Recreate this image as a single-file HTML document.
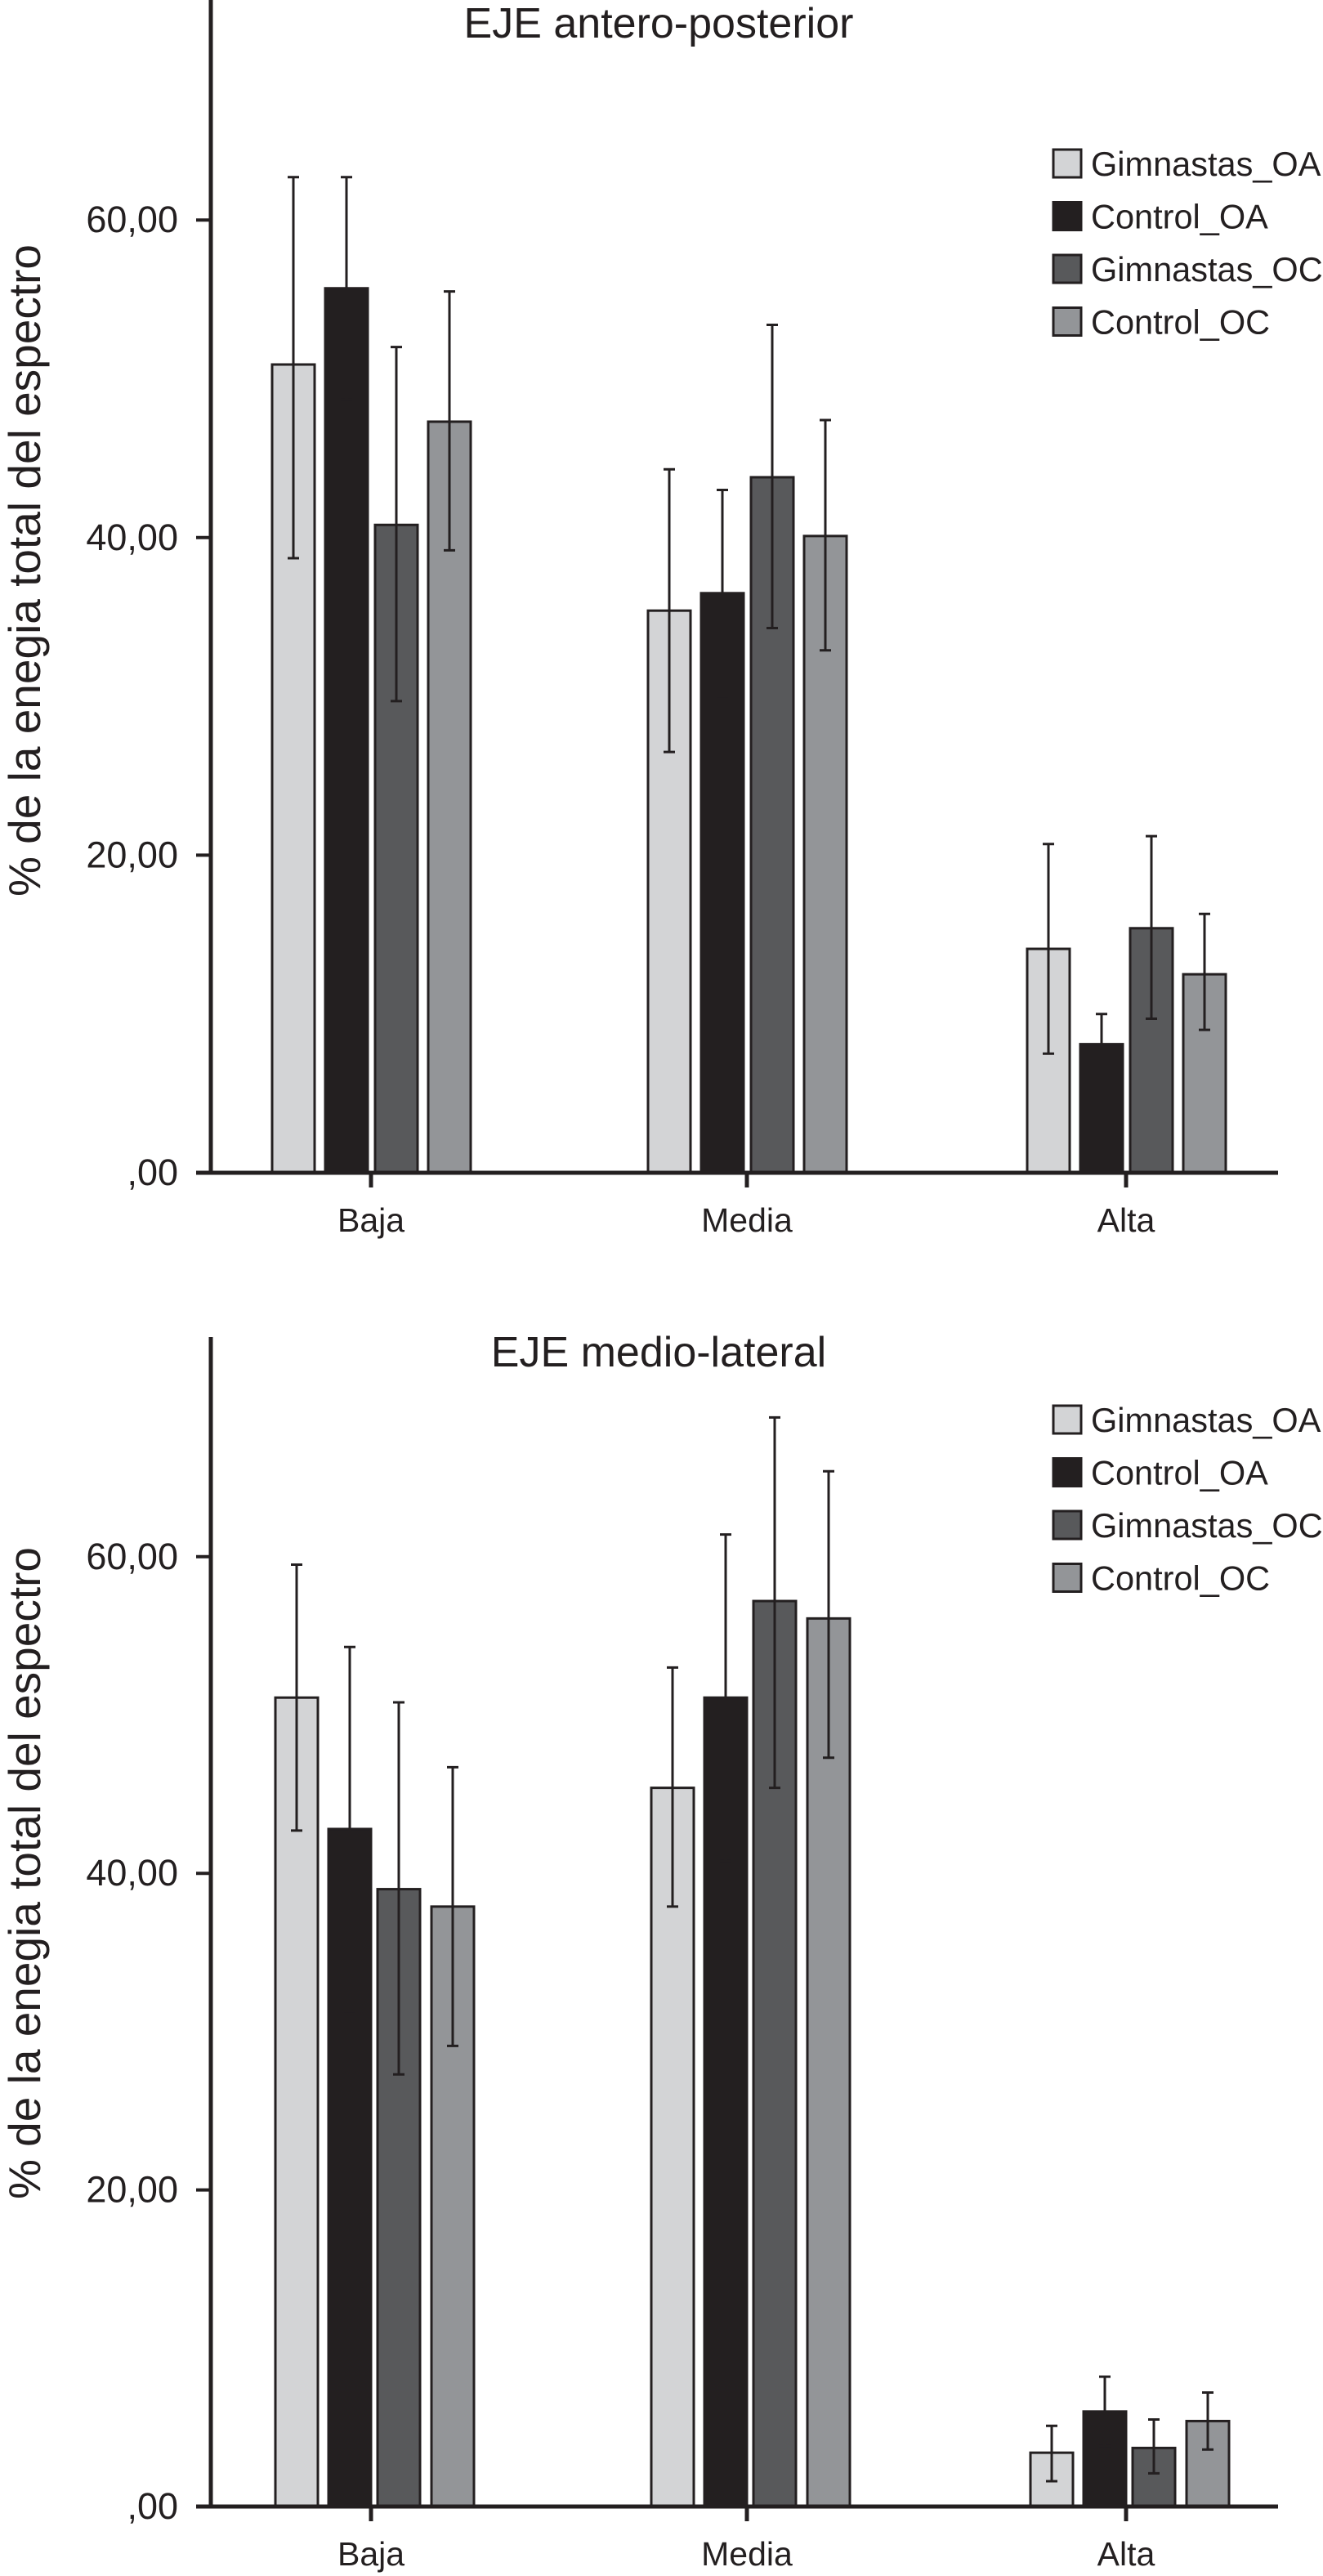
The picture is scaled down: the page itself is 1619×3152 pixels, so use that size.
<!DOCTYPE html>
<html><head><meta charset="utf-8"><style>
html,body{margin:0;padding:0;background:#fff;}
svg{display:block;font-family:"Liberation Sans",Arial,sans-serif;}
</style></head>
<body>
<svg id="svg" width="1619" height="3152" viewBox="0 0 1619 3152" xmlns="http://www.w3.org/2000/svg"></svg>
<script>
const categories = ["Baja","Media","Alta"];
const seriesNames = ["Gimnastas_OA","Control_OA","Gimnastas_OC","Control_OC"];
const yTicks = [0,20,40,60];
const yTickLabels = [",00","20,00","40,00","60,00"];
// Chart 1: EJE antero-posterior
const apMeans = [[50.9,35.4,14.1],[55.7,36.5,8.1],[40.8,43.8,15.4],[47.3,40.1,12.5]];
const apUpper = [[62.7,44.3,20.7],[62.7,43.0,10.0],[52.0,53.4,21.2],[55.5,47.4,16.3]];
const apLower = [[38.7,26.5,7.5],[48.7,30.0,6.2],[29.7,34.3,9.7],[39.2,32.9,9.0]];
// Chart 2: EJE medio-lateral
const mlMeans = [[51.1,45.4,3.4],[42.8,51.1,6.0],[39.0,57.2,3.7],[37.9,56.1,5.4]];
const mlUpper = [[59.5,53.0,5.1],[54.3,61.4,8.2],[50.8,68.8,5.5],[46.7,65.4,7.2]];
const mlLower = [[42.7,37.9,1.6],[31.3,40.8,3.8],[27.3,45.4,2.1],[29.1,47.3,3.6]];

const fills = ["#d3d4d6","#231f20","#58595b","#939598"];
const NS = "http://www.w3.org/2000/svg";
const svg = document.getElementById("svg");
function mk(tag, attrs, parent, text){
  const e = document.createElementNS(NS, tag);
  for (const k in attrs) e.setAttribute(k, attrs[k]);
  if (text !== undefined) e.textContent = text;
  (parent || svg).appendChild(e);
  return e;
}
function drawChart(cfg){
  const g = mk("g", {});
  
  
  const y = v => cfg.zeroY - v * cfg.pxPerUnit;
  const xc = i => cfg.catX[i];
  const t = mk("text", {x: 806, y: cfg.titleY, "font-size": 52, "text-anchor": "middle", fill: "#231f20"}, g, cfg.title);
  
  
  const yt = mk("text", {x: 0, y: 0, "font-size": 55, "text-anchor": "middle", fill: "#231f20",
    transform: `translate(49,${cfg.yTitleY}) rotate(-90)`}, g, "% de la enegia total del espectro");
  
  
  for (let s = 0; s < seriesNames.length; s++) {
    for (let c = 0; c < categories.length; c++) {
      const cx = xc(c) + cfg.offsets[s];
      const top = y(cfg.means[s][c]);
      const r = mk("rect", {x: cx - 26, y: top, width: 52, height: cfg.zeroY - top, fill: fills[s], stroke: "#231f20", "stroke-width": 3}, g);
      
      
      const yu = y(cfg.upper[s][c]), yl = y(cfg.lower[s][c]);
      const eb = mk("path", {d: `M${cx},${yu}V${yl}M${cx-7},${yu}H${cx+7}M${cx-7},${yl}H${cx+7}`, stroke: "#231f20", "stroke-width": 3, fill: "none"}, g);
      
      
    }
  }
  const ya = mk("path", {d: `M258,${cfg.axisTop}V${cfg.zeroY}`, stroke: "#231f20", "stroke-width": 5}, g);
  
  
  const xa = mk("path", {d: `M240,${cfg.zeroY}H1564`, stroke: "#231f20", "stroke-width": 5}, g);
  
  
  yTicks.forEach((v, i) => {
    const tk = mk("path", {d: `M240,${y(v)}H258`, stroke: "#231f20", "stroke-width": 4}, g);
    
    
    const tl = mk("text", {x: 218, y: y(v) + 15, "font-size": 45, "text-anchor": "end", fill: "#231f20"}, g, yTickLabels[i]);
    
    
  });
  categories.forEach((c, i) => {
    const tk = mk("path", {d: `M${xc(i)},${cfg.zeroY}V${cfg.zeroY+18}`, stroke: "#231f20", "stroke-width": 5}, g);
    
    
    const tl = mk("text", {x: xc(i), y: cfg.zeroY + 72, "font-size": 41, "text-anchor": "middle", fill: "#231f20"}, g, c);
    
    
  });
  seriesNames.forEach((n, i) => {
    const ry = cfg.legendY + i * 64.5;
    const b = mk("rect", {x: 1289, y: ry - 17, width: 34, height: 34, fill: fills[i], stroke: "#231f20", "stroke-width": 3}, g);
    
    
    const lt = mk("text", {x: 1335, y: ry + 15, "font-size": 41.5, fill: "#231f20"}, g, n);
    
    
  });
}
drawChart({name: "chart-antero-posterior", title: "EJE antero-posterior", titleY: 46, yTitleY: 698,
  zeroY: 1435, pxPerUnit: 19.43, axisTop: 0, catX: [454,914,1378], offsets: [-95,-30,31,96],
  means: apMeans, upper: apUpper, lower: apLower, legendY: 200});
drawChart({name: "chart-medio-lateral", title: "EJE medio-lateral", titleY: 1672, yTitleY: 2292,
  zeroY: 3067, pxPerUnit: 19.37, axisTop: 1636, catX: [454,914,1378], offsets: [-91,-26,34,100],
  means: mlMeans, upper: mlUpper, lower: mlLower, legendY: 1737});
</script>
</body></html>
